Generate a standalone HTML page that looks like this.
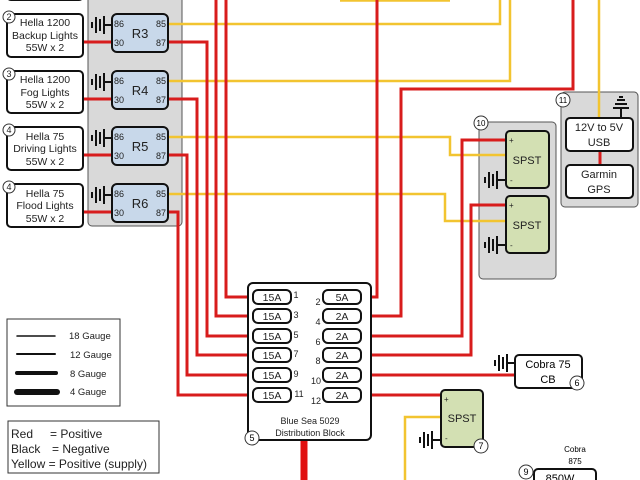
<!DOCTYPE html>
<html><head><meta charset="utf-8"><style>
html,body{margin:0;padding:0;background:#fff;}
svg{display:block;font-family:"Liberation Sans",sans-serif;}
</style></head><body>
<svg width="640" height="480" viewBox="0 0 640 480" xmlns="http://www.w3.org/2000/svg">
<defs>
<g id="gnd"><line x1="0" y1="-8" x2="0" y2="8" stroke="#111" stroke-width="2"/><line x1="4" y1="-6" x2="4" y2="6" stroke="#111" stroke-width="2"/><line x1="8" y1="-9" x2="8" y2="9" stroke="#111" stroke-width="2"/><line x1="8" y1="0" x2="16" y2="0" stroke="#111" stroke-width="2"/><line x1="-4" y1="-3" x2="-4" y2="3" stroke="#111" stroke-width="2"/></g>
</defs>
<rect x="88" y="-6" width="94" height="232" rx="4" fill="#d9d9d9" stroke="#555" stroke-width="1"/>
<rect x="479" y="122" width="77" height="157" rx="4" fill="#d9d9d9" stroke="#555"/>
<rect x="561" y="92" width="77" height="115" rx="4" fill="#d9d9d9" stroke="#555"/>

<g fill="none" stroke="#f2c430" stroke-width="2.5">
<polyline points="168,24 500,24 500,0"/>
<polyline points="168,81 510,81 510,0"/>
<polyline points="168,137 450,137 450,155 506,155"/>
<polyline points="168,194 445,194 445,221 506,221"/>
<line x1="340" y1="0.5" x2="450" y2="0.5"/>
<line x1="599" y1="0" x2="599" y2="118"/>
<polyline points="441,417 405,417 405,480"/>
</g>
<g fill="none" stroke="#d81c1c" stroke-width="3">
<line x1="84" y1="42" x2="112" y2="42"/><line x1="84" y1="99" x2="112" y2="99"/>
<line x1="84" y1="155" x2="112" y2="155"/><line x1="84" y1="212" x2="112" y2="212"/>
<polyline points="168,42 207,42 207,336 253,336"/>
<polyline points="168,99 197,99 197,355 253,355"/>
<polyline points="168,155 187,155 187,375 253,375"/>
<polyline points="168,212 178,212 178,395 253,395"/>
<polyline points="216,0 216,316 253,316"/>
<polyline points="226,0 226,297 253,297"/>
<polyline points="361,297 377,297 377,0"/>
<polyline points="361,316 401,316 401,89 573,89 573,0"/>
<polyline points="361,336 462,336 462,140 506,140"/>
<polyline points="361,355 471,355 471,205 506,205"/>
<polyline points="361,375 515,375"/>
<polyline points="361,395 441,395"/>
<line x1="600" y1="151" x2="600" y2="165"/>
</g>
<line x1="304" y1="440" x2="304" y2="480" stroke="#e01010" stroke-width="7"/>

<g font-size="10.5" text-anchor="middle" fill="#222">
<rect x="7" y="-30" width="76" height="30" rx="4" fill="#fff" stroke="#111" stroke-width="2"/>
<rect x="7" y="14" width="76" height="43" rx="4" fill="#fff" stroke="#111" stroke-width="2"/>
<text x="45" y="26">Hella 1200</text><text x="45" y="39">Backup Lights</text><text x="45" y="51">55W x 2</text>
<rect x="7" y="71" width="76" height="42" rx="4" fill="#fff" stroke="#111" stroke-width="2"/>
<text x="45" y="83">Hella 1200</text><text x="45" y="96">Fog Lights</text><text x="45" y="108">55W x 2</text>
<rect x="7" y="127" width="76" height="43" rx="4" fill="#fff" stroke="#111" stroke-width="2"/>
<text x="45" y="140">Hella 75</text><text x="45" y="152">Driving Lights</text><text x="45" y="165">55W x 2</text>
<rect x="7" y="184" width="76" height="43" rx="4" fill="#fff" stroke="#111" stroke-width="2"/>
<text x="45" y="197">Hella 75</text><text x="45" y="209">Flood Lights</text><text x="45" y="222">55W x 2</text>
</g>
<g font-size="9" text-anchor="middle" fill="#222" stroke-width="1">
<circle cx="9" cy="17" r="6" fill="#fff" stroke="#333"/><text x="9" y="20">2</text>
<circle cx="9" cy="74" r="6" fill="#fff" stroke="#333"/><text x="9" y="77">3</text>
<circle cx="9" cy="130" r="6" fill="#fff" stroke="#333"/><text x="9" y="133">4</text>
<circle cx="9" cy="187" r="6" fill="#fff" stroke="#333"/><text x="9" y="190">4</text>
</g>
<g font-size="9" fill="#222">
<g><rect x="112" y="14" width="56" height="38" rx="5" fill="#c8d8ea" stroke="#111" stroke-width="2"/><text x="114" y="27">86</text><text x="114" y="46">30</text><text x="156" y="27">85</text><text x="156" y="46">87</text><text x="140" y="38" font-size="13" text-anchor="middle">R3</text><use href="#gnd" transform="translate(96,25)"/></g>
<g transform="translate(0,57)"><rect x="112" y="14" width="56" height="38" rx="5" fill="#c8d8ea" stroke="#111" stroke-width="2"/><text x="114" y="27">86</text><text x="114" y="46">30</text><text x="156" y="27">85</text><text x="156" y="46">87</text><text x="140" y="38" font-size="13" text-anchor="middle">R4</text><use href="#gnd" transform="translate(96,25)"/></g>
<g transform="translate(0,113)"><rect x="112" y="14" width="56" height="38" rx="5" fill="#c8d8ea" stroke="#111" stroke-width="2"/><text x="114" y="27">86</text><text x="114" y="46">30</text><text x="156" y="27">85</text><text x="156" y="46">87</text><text x="140" y="38" font-size="13" text-anchor="middle">R5</text><use href="#gnd" transform="translate(96,25)"/></g>
<g transform="translate(0,170)"><rect x="112" y="14" width="56" height="38" rx="5" fill="#c8d8ea" stroke="#111" stroke-width="2"/><text x="114" y="27">86</text><text x="114" y="46">30</text><text x="156" y="27">85</text><text x="156" y="46">87</text><text x="140" y="38" font-size="13" text-anchor="middle">R6</text><use href="#gnd" transform="translate(96,25)"/></g>
</g>

<rect x="248" y="283" width="123" height="157" rx="5" fill="#fff" stroke="#111" stroke-width="2"/>
<g font-size="10.5" fill="#222" text-anchor="middle">
<g stroke="#111" stroke-width="2" fill="#fff">
<rect x="253" y="290" width="38" height="14" rx="5"/><rect x="253" y="309" width="38" height="14" rx="5"/><rect x="253" y="329" width="38" height="14" rx="5"/><rect x="253" y="348" width="38" height="14" rx="5"/><rect x="253" y="368" width="38" height="14" rx="5"/><rect x="253" y="388" width="38" height="14" rx="5"/>
<rect x="323" y="290" width="38" height="14" rx="5"/><rect x="323" y="309" width="38" height="14" rx="5"/><rect x="323" y="329" width="38" height="14" rx="5"/><rect x="323" y="348" width="38" height="14" rx="5"/><rect x="323" y="368" width="38" height="14" rx="5"/><rect x="323" y="388" width="38" height="14" rx="5"/>
</g>
<text x="272" y="301">15A</text><text x="272" y="320">15A</text><text x="272" y="340">15A</text><text x="272" y="359">15A</text><text x="272" y="379">15A</text><text x="272" y="399">15A</text>
<text x="342" y="301">5A</text><text x="342" y="320">2A</text><text x="342" y="340">2A</text><text x="342" y="359">2A</text><text x="342" y="379">2A</text><text x="342" y="399">2A</text>
<g font-size="9"><text x="296" y="298">1</text><text x="296" y="318">3</text><text x="296" y="338">5</text><text x="296" y="357">7</text><text x="296" y="377">9</text><text x="299" y="397">11</text>
<text x="318" y="305">2</text><text x="318" y="325">4</text><text x="318" y="345">6</text><text x="318" y="364">8</text><text x="316" y="384">10</text><text x="316" y="404">12</text></g>
<text x="310" y="424" font-size="9">Blue Sea 5029</text><text x="310" y="436" font-size="9">Distribution Block</text>
</g>
<circle cx="252" cy="438" r="7" fill="#fff" stroke="#333"/><text x="252" y="441" font-size="9" text-anchor="middle">5</text>

<g font-size="11" fill="#222">
<rect x="506" y="131" width="43" height="57" rx="4" fill="#d3e0b3" stroke="#111" stroke-width="2"/><text x="509" y="143" font-size="8">+</text><text x="527" y="164" text-anchor="middle">SPST</text><text x="510" y="183" font-size="8">-</text><use href="#gnd" transform="translate(489,180)"/>
<rect x="506" y="196" width="43" height="57" rx="4" fill="#d3e0b3" stroke="#111" stroke-width="2"/><text x="509" y="208" font-size="8">+</text><text x="527" y="229" text-anchor="middle">SPST</text><text x="510" y="248" font-size="8">-</text><use href="#gnd" transform="translate(489,245)"/>
<rect x="441" y="390" width="42" height="57" rx="4" fill="#d3e0b3" stroke="#111" stroke-width="2"/><text x="444" y="402" font-size="8">+</text><text x="462" y="422" text-anchor="middle">SPST</text><text x="445" y="441" font-size="8">-</text><use href="#gnd" transform="translate(424,440)"/>
</g>
<circle cx="481" cy="123" r="7" fill="#fff" stroke="#333"/><text x="481" y="126" font-size="8" text-anchor="middle">10</text>
<circle cx="563" cy="100" r="7" fill="#fff" stroke="#333"/><text x="563" y="103" font-size="8" text-anchor="middle">11</text>
<circle cx="481" cy="446" r="7" fill="#fff" stroke="#333"/><text x="481" y="449" font-size="9" text-anchor="middle">7</text>

<g font-size="11" fill="#222" text-anchor="middle">
<rect x="566" y="118" width="67" height="33" rx="4" fill="#fff" stroke="#111" stroke-width="2"/><text x="599" y="131">12V to 5V</text><text x="599" y="146">USB</text>
<rect x="566" y="165" width="67" height="33" rx="4" fill="#fff" stroke="#111" stroke-width="2"/><text x="599" y="178">Garmin</text><text x="599" y="193">GPS</text>
</g>
<g stroke="#111" stroke-width="2"><line x1="621" y1="108" x2="621" y2="118"/><line x1="613" y1="108" x2="629" y2="108"/><line x1="615" y1="104" x2="627" y2="104"/><line x1="617" y1="100" x2="625" y2="100"/><line x1="619" y1="97" x2="623" y2="97"/></g>

<rect x="515" y="355" width="67" height="33" rx="4" fill="#fff" stroke="#111" stroke-width="2"/>
<text x="548" y="368" font-size="11" text-anchor="middle">Cobra 75</text><text x="548" y="383" font-size="11" text-anchor="middle">CB</text>
<use href="#gnd" transform="translate(499,363)"/>
<circle cx="577" cy="383" r="7" fill="#fff" stroke="#333"/><text x="577" y="386" font-size="9" text-anchor="middle">6</text>
<text x="575" y="452" font-size="8" text-anchor="middle">Cobra</text><text x="575" y="464" font-size="8" text-anchor="middle">875</text>
<rect x="534" y="469" width="62" height="30" rx="4" fill="#fff" stroke="#111" stroke-width="2"/>
<text x="560" y="482" font-size="11" text-anchor="middle">850W</text>
<circle cx="526" cy="472" r="7" fill="#fff" stroke="#333"/><text x="526" y="475" font-size="9" text-anchor="middle">9</text>

<rect x="7" y="319" width="113" height="87" fill="#fff" stroke="#333"/>
<g stroke="#111" stroke-linecap="round"><line x1="17" y1="336" x2="55" y2="336" stroke-width="1.5"/><line x1="17" y1="354" x2="55" y2="354" stroke-width="2"/><line x1="17" y1="373" x2="56" y2="373" stroke-width="4"/><line x1="17" y1="392" x2="57" y2="392" stroke-width="6"/></g>
<g font-size="9.5" fill="#222"><text x="69" y="339">18 Gauge</text><text x="70" y="358">12 Gauge</text><text x="70" y="377">8 Gauge</text><text x="70" y="395">4 Gauge</text></g>
<rect x="8" y="421" width="151" height="52" fill="#fff" stroke="#333"/>
<g font-size="12" fill="#222"><text x="11" y="438">Red</text><text x="50" y="438">= Positive</text><text x="11" y="453">Black</text><text x="52" y="453">= Negative</text><text x="11" y="468">Yellow = Positive (supply)</text></g>
</svg>
</body></html>
